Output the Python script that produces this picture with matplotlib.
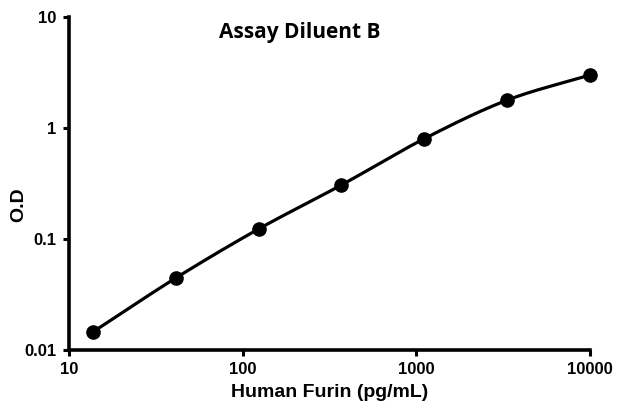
import matplotlib
matplotlib.use("Agg")
import matplotlib.pyplot as plt
from matplotlib.ticker import FixedLocator, FixedFormatter, NullLocator
import numpy as np

conc = [13.7, 41.2, 123.5, 370, 1111, 3333, 10000]
od = [0.0145, 0.0445, 0.123, 0.306, 0.80, 1.78, 3.0]
xticks = [10, 100, 1000, 10000]
xlabels = ["10", "100", "1000", "10000"]
yticks = [0.01, 0.1, 1, 10]
ylabels = ["0.01", "0.1", "1", "10"]

fig = plt.figure(figsize=(6.17, 4.12), dpi=100)
ax = fig.add_axes([0.1118, 0.1505, 0.956 - 0.1118, 0.9587 - 0.1505])
ax.set_xscale("log")
ax.set_yscale("log")

# smooth curve in log space (Catmull-Rom) through the data
lx = np.log10(conc); ly = np.log10(od)
px = np.concatenate([[2*lx[0]-lx[1]], lx, [2*lx[-1]-lx[-2]]])
py = np.concatenate([[2*ly[0]-ly[1]], ly, [2*ly[-1]-ly[-2]]])
sx, sy = [], []
t = np.linspace(0, 1, 30)
for i in range(1, len(px)-2):
    for arr, out in ((px, sx), (py, sy)):
        p0, p1, p2, p3 = arr[i-1], arr[i], arr[i+1], arr[i+2]
        out.extend(0.5*((2*p1) + (-p0+p2)*t + (2*p0-5*p1+4*p2-p3)*t**2 + (-p0+3*p1-3*p2+p3)*t**3))
ax.plot(10**np.array(sx), 10**np.array(sy), color="black", lw=2.3, solid_capstyle="round")
ax.plot(conc, od, "o", color="black", ms=9.5, clip_on=False)

ax.set_xlim(10, 10000)
ax.set_ylim(0.01, 10)
ax.xaxis.set_major_locator(FixedLocator(xticks))
ax.xaxis.set_major_formatter(FixedFormatter(xlabels))
ax.yaxis.set_major_locator(FixedLocator(yticks))
ax.yaxis.set_major_formatter(FixedFormatter(ylabels))
ax.xaxis.set_minor_locator(NullLocator())
ax.yaxis.set_minor_locator(NullLocator())

for s in ["top", "right"]:
    ax.spines[s].set_visible(False)
for s in ["left", "bottom"]:
    ax.spines[s].set_linewidth(2.6)
ax.tick_params(axis="both", which="major", direction="out", length=4, width=2.2,
               labelsize=12, pad=5)
for lab in ax.get_xticklabels() + ax.get_yticklabels():
    lab.set_fontfamily("Liberation Sans")
    lab.set_fontweight("bold")

ax.set_xlabel("Human Furin (pg/mL)", fontfamily="Liberation Sans", fontweight="bold",
              fontsize=14, labelpad=5)
ax.set_ylabel("O.D", fontfamily="Liberation Sans", fontweight="bold", fontsize=14)
ax.yaxis.set_label_coords(27/617, 1 - 205/412, transform=fig.transFigure)
fig.text(0.4862, 0.922, "Assay Diluent B", fontfamily="Open Sans", fontweight="bold",
         fontsize=15, ha="center", va="center")

fig.savefig("out.png", dpi=100)
